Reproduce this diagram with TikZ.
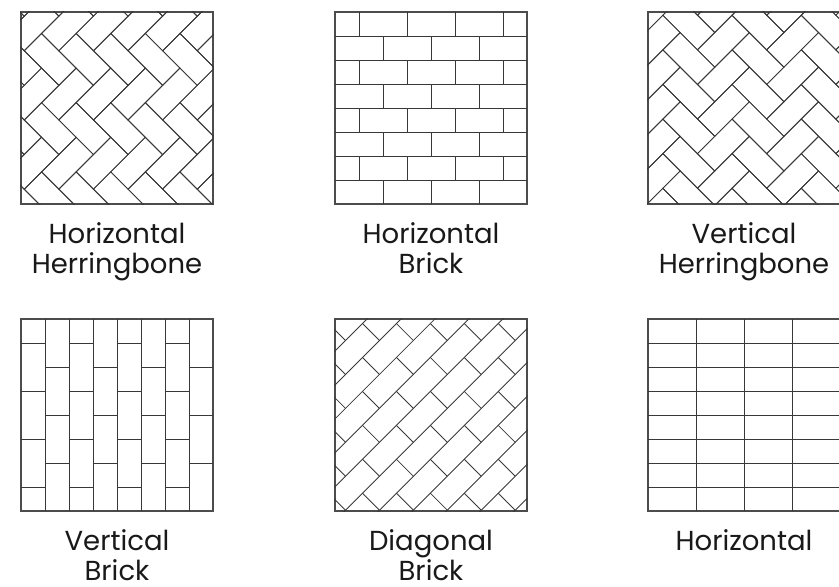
\documentclass[tikz,border=0pt]{standalone}
\usepackage{fontspec}
\setmainfont{Poppins}
\usetikzlibrary{positioning}

\begin{document}
\begin{tikzpicture}[x=1pt, y=-1pt,
  panel/.style={draw=black!70, line width=1.1pt, minimum width=192pt, minimum height=192pt, inner sep=0pt},
  joint/.style={draw=black!78, line width=0.85pt},
  caption/.style={align=center, inner sep=0pt, font=\fontsize{27.5}{30}\selectfont, text=black!90}]

\useasboundingbox (0,0) rectangle (839,587);

\node[panel] (hherr) at (117,108) {};
\node[panel] (hbrick) at (431,108) {};
\node[panel] (vherr) at (744,108) {};
\node[panel] (vbrick) at (117,415) {};
\node[panel] (dbrick) at (431,415) {};
\node[panel] (hstack) at (744,415) {};

\node[caption, below=18pt of hherr] (hherrcap) {Horizontal\\Herringbone};
\node[caption, below=18pt of hbrick] (hbrickcap) {Horizontal\\Brick};
\node[caption, below=18pt of vherr] (vherrcap) {Vertical\\Herringbone};
\node[caption, below=18pt of vbrick] (vbrickcap) {Vertical\\Brick};
\node[caption, below=18pt of dbrick] (dbrickcap) {Diagonal\\Brick};
\node[caption, below=18pt of hstack] (hstackcap) {Horizontal};

\begin{scope}
  \clip (hherr.south west) rectangle (hherr.north east);
  \begin{scope}[shift={(58.85,50.75)}, x={(17.3pt,-17.3pt)}, y={(17.3pt,17.3pt)}]
    \foreach \a in {-10,...,12} \foreach \b in {-4,...,7} {
      \draw[joint] ({\a+2*\b},{\a-2*\b}) -- ++(2,0) -- ++(0,1) -- ++(-2,0) -- cycle;
      \draw[joint] ({\a+2*\b+2},{\a-2*\b-1}) -- ++(1,0) -- ++(0,2) -- ++(-1,0) -- cycle;
    }
  \end{scope}
\end{scope}

\begin{scope}
  \clip (vherr.south west) rectangle (vherr.north east);
  \begin{scope}[shift={(801.25,49.85)}, x={(-17.3pt,-17.3pt)}, y={(17.3pt,-17.3pt)}]
    \foreach \a in {-10,...,12} \foreach \b in {-4,...,7} {
      \draw[joint] ({\a+2*\b},{\a-2*\b}) -- ++(2,0) -- ++(0,1) -- ++(-2,0) -- cycle;
      \draw[joint] ({\a+2*\b+2},{\a-2*\b-1}) -- ++(1,0) -- ++(0,2) -- ++(-1,0) -- cycle;
    }
  \end{scope}
\end{scope}

\foreach \r in {1,...,7}
  \draw[joint] (335,{12+24*\r}) -- ++(192,0);
\foreach \r in {0,2,4,6} {
  \foreach \j in {0,...,3}
    \draw[joint] ({359+48*\j},{12+24*\r}) -- ++(0,24);
  \foreach \j in {0,...,2}
    \draw[joint] ({383+48*\j},{36+24*\r}) -- ++(0,24);
}

\foreach \c in {1,...,7}
  \draw[joint] ({21+24*\c},319) -- ++(0,192);
\foreach \c in {0,2,4,6} {
  \foreach \j in {0,...,3}
    \draw[joint] ({21+24*\c},{343+48*\j}) -- ++(24,0);
  \foreach \j in {0,...,2}
    \draw[joint] ({45+24*\c},{367+48*\j}) -- ++(24,0);
}

\begin{scope}
  \clip (dbrick.south west) rectangle (dbrick.north east);
  \begin{scope}[shift={(345.5,340.5)}, x={(16.97pt,16.97pt)}, y={(16.97pt,-16.97pt)}]
    \foreach \k in {-4,-2,...,12} {
      \draw[joint] (-8,\k) -- (9,\k);
      \draw[joint] (-8,{\k+1}) -- (9,{\k+1});
      \foreach \j in {-4,...,4} {
        \draw[joint] ({2*\j+1},\k) -- ++(0,1);
        \draw[joint] ({2*\j},{\k+1}) -- ++(0,1);
      }
    }
  \end{scope}
\end{scope}

\foreach \c in {1,2,3}
  \draw[joint] ({648+48*\c},319) -- ++(0,192);
\foreach \r in {1,...,7}
  \draw[joint] (648,{319+24*\r}) -- ++(192,0);

\end{tikzpicture}
\end{document}
